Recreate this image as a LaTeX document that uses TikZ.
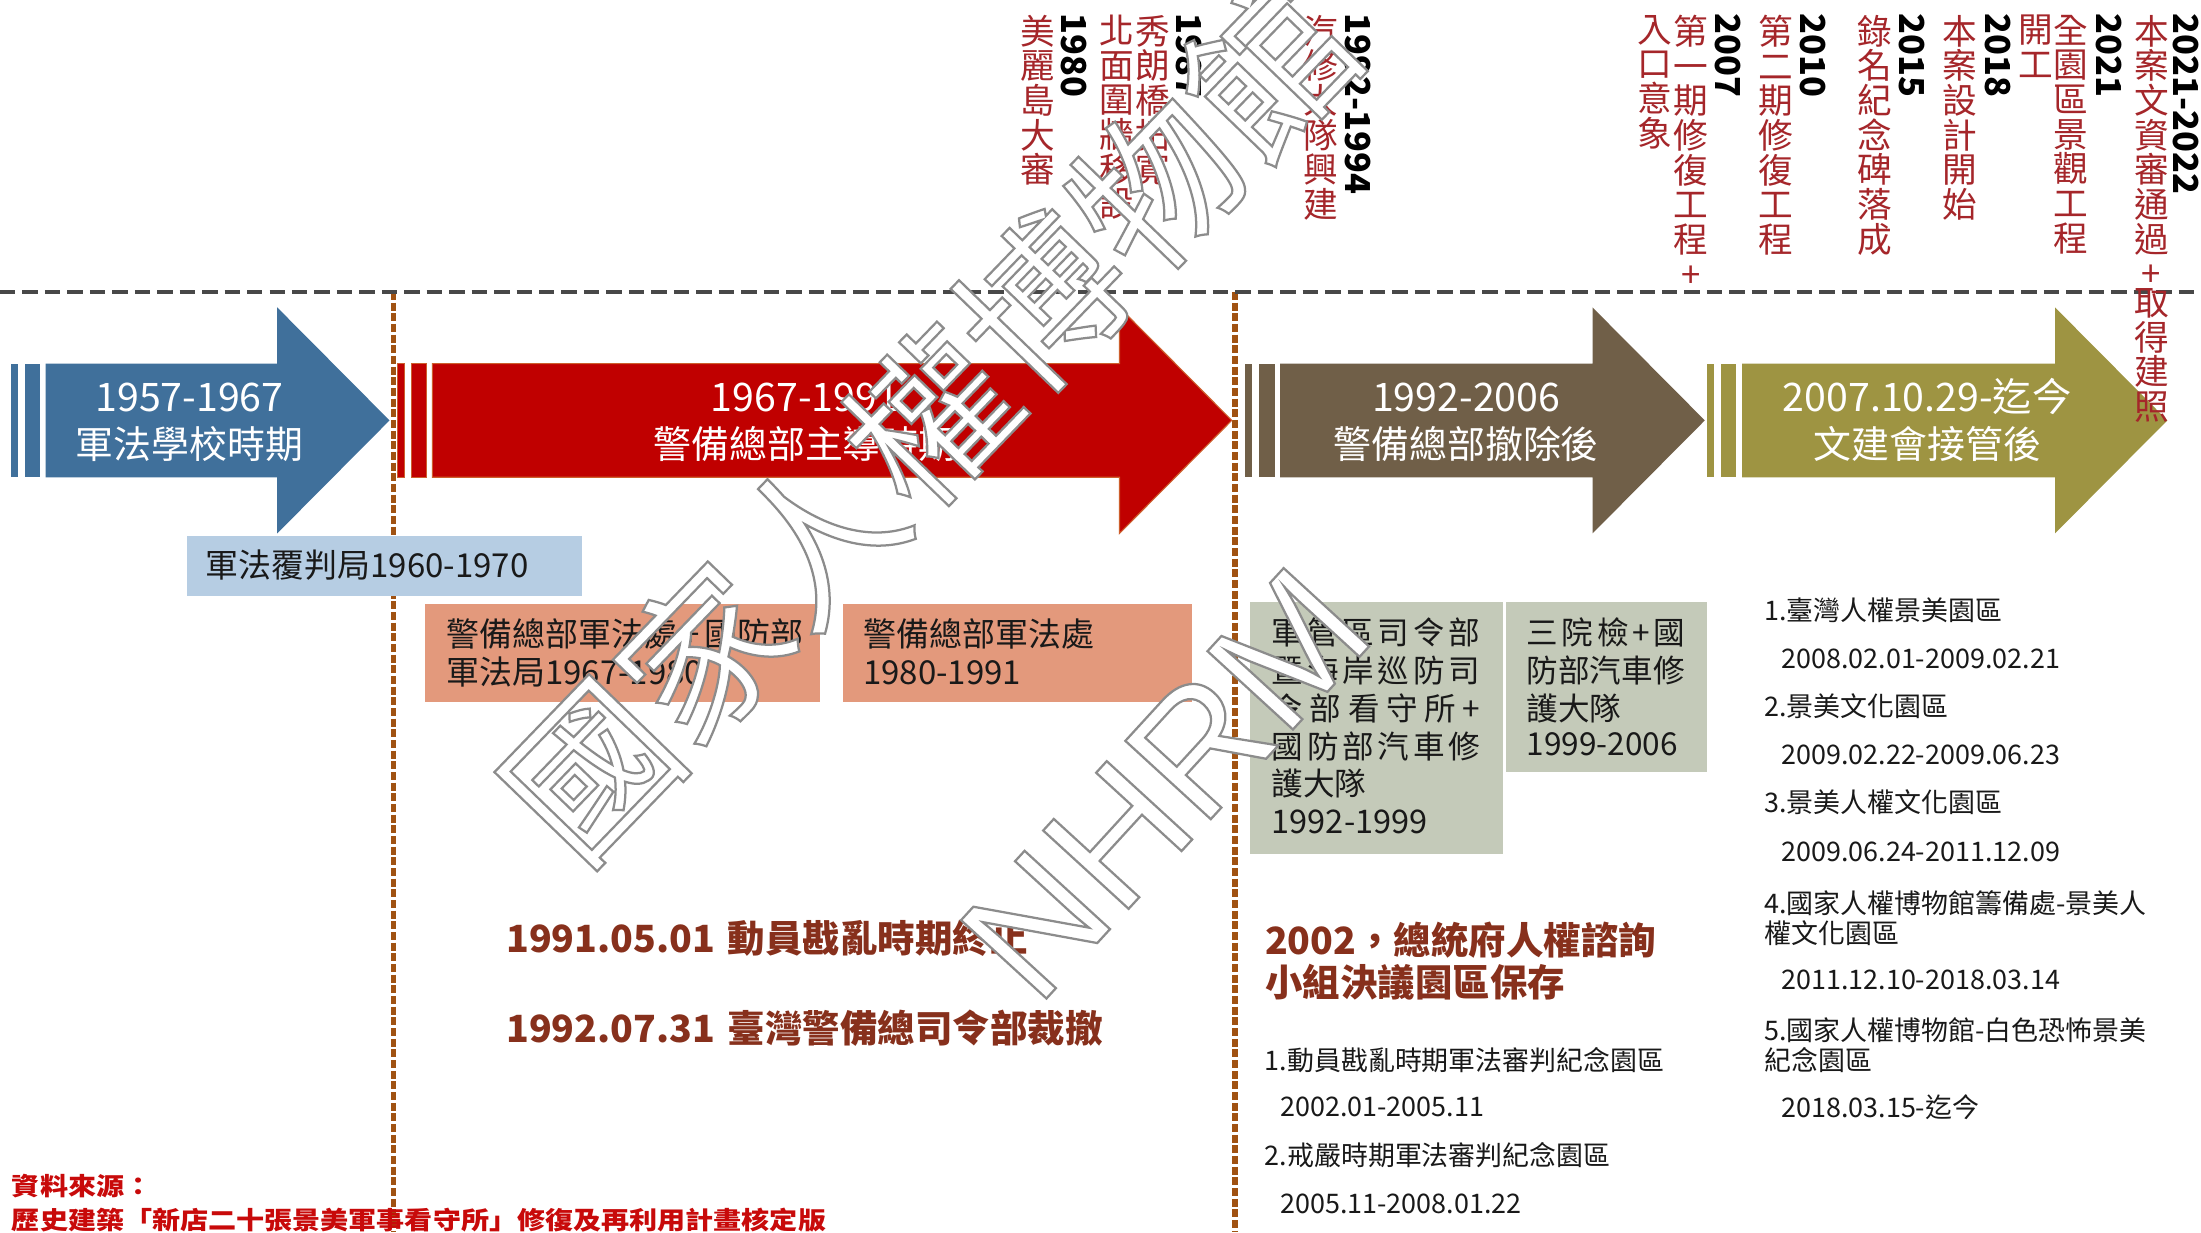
\documentclass[tikz,border=0pt]{standalone}
\usepackage{fontspec}
\usepackage{graphicx}
\setmainfont{Noto Sans CJK TC}
\newfontfamily\wmlatin{Liberation Sans}
\definecolor{cBlue}{RGB}{64,112,155}
\definecolor{cRed}{RGB}{192,0,0}
\definecolor{cRedEdge}{RGB}{205,95,45}
\definecolor{cBrown}{RGB}{112,95,72}
\definecolor{cOlive}{RGB}{158,148,66}
\definecolor{cLightBlue}{RGB}{182,205,227}
\definecolor{cSalmon}{RGB}{227,153,124}
\definecolor{cSage}{RGB}{196,202,185}
\definecolor{cDarkRed}{RGB}{135,48,28}
\definecolor{cVRed}{RGB}{165,38,42}
\definecolor{cSrc}{RGB}{200,10,10}
\definecolor{cGrayLine}{RGB}{72,72,72}
\definecolor{cOrange}{RGB}{160,82,18}
\definecolor{cText}{RGB}{25,25,25}
\newcommand\fsz[1]{\fontsize{#1pt}{#1pt}\selectfont}
\newcommand\wmout[1]{\special{pdf:literal 2 Tr 0.55 G 0.8 w}#1\special{pdf:literal 0 Tr}}
\newcommand\timearrow[3]{%
  \path[#3] (#1,259) rectangle ({#1+5},340);
  \path[#3] ({#1+10},259) rectangle ({#1+21},340);
  \path[#3] ({#1+25},259) -- ({#2-80},259) -- ({#2-80},219) -- (#2,299.5) -- ({#2-80},380) -- ({#2-80},340) -- ({#1+25},340) -- cycle;}
\begin{document}
\begin{tikzpicture}[x=0.5pt,y=-0.5pt,
  every node/.style={inner sep=0pt,outer sep=0pt},
  arrtxt/.style={text=white,anchor=base},
  boxtxt/.style={text=cText,font=\fsz{11.75},anchor=base west},
  sagetxt/.style={text=cText,font=\fsz{11.25},anchor=base west},
  bigred/.style={text=cDarkRed,font=\bfseries\fsz{13.35},anchor=base west},
  listtxt/.style={text=cText,font=\fsz{9.6},anchor=base west},
  vcol/.style={text=cVRed,font=\fsz{12.35},align=center,anchor=north},
  yearlbl/.style={text=black,font=\bfseries\fsz{12.25},rotate=-90,anchor=base west},
  srctxt/.style={text=cSrc,font=\bfseries\fsz{10},anchor=base west},
  wmark/.style={text=white,font=\fsz{58}},
  boxfill/.style={fill=#1,draw=none}
]
\useasboundingbox (0,0) rectangle (1568,878);
\fill[white] (0,0) rectangle (1568,878);

% dashed guide lines
\coordinate (hL) at (0,208);
\coordinate (hR) at (1568,208);
\coordinate (v1t) at (280.5,208);
\coordinate (v1b) at (280.5,878);
\coordinate (v2t) at (879.8,208);
\coordinate (v2b) at (879.8,878);
\draw[cOrange,line width=1.9pt,dash pattern=on 2.8pt off 1pt] (v1t) -- (v1b);
\draw[cOrange,line width=1.9pt,dash pattern=on 2.8pt off 1pt] (v2t) -- (v2b);
\draw[cGrayLine,line width=1.4pt,dash pattern=on 5.5pt off 2.5pt] (hL) -- (hR);

% period arrows
\timearrow{7.5}{277.5}{fill=cBlue}
\timearrow{283}{877.5}{fill=cRed,draw=cRedEdge,line width=0.4pt}
\timearrow{887}{1214.5}{fill=cBrown}
\timearrow{1216}{1544}{fill=cOlive}

\node[arrtxt,font=\fsz{14}] (a1t) at (135,293.4) {1957-1967};
\node[arrtxt,font=\fsz{13.5}] (a1b) at (135,326.8) {軍法學校時期};
\node[arrtxt,font=\fsz{14}] (a2t) at (573.5,293.4) {1967-1991};
\node[arrtxt,font=\fsz{13.5}] (a2b) at (573.5,326.8) {警備總部主導時期};
\node[arrtxt,font=\fsz{14}] (a3t) at (1044.5,293.4) {1992-2006};
\node[arrtxt,font=\fsz{13.5}] (a3b) at (1044.5,326.8) {警備總部撤除後};
\node[arrtxt,font=\fsz{14}] (a4t) at (1373,293.4) {2007.10.29-迄今};
\node[arrtxt,font=\fsz{13.5}] (a4b) at (1373,326.8) {文建會接管後};

% boxes
\path[boxfill=cLightBlue] (133,382) rectangle (414.5,424.6);
\path[boxfill=cSalmon] (302.7,430) rectangle (584.5,500);
\path[boxfill=cSalmon] (600.4,430) rectangle (849,500);
\path[boxfill=cSage] (890.5,429) rectangle (1070.5,608.4);
\path[boxfill=cSage] (1073,429) rectangle (1216,550.3);

\node[boxtxt] (lb) at (146.5,411.5) {軍法覆判局1960-1970};
\node[boxtxt] (s1a) at (317.9,460.4) {警備總部軍法處\hspace{1.6pt}+\hspace{1.6pt}國防部};
\node[boxtxt] (s1b) at (317.9,487.3) {軍法局1967-1980};
\node[boxtxt] (s2a) at (615,460.4) {警備總部軍法處};
\node[boxtxt] (s2b) at (615,487.3) {1980-1991};

\node[sagetxt] (g1a) at (906,459) {\makebox[74.25pt][s]{軍\hfill 管\hfill 區\hfill 司\hfill 令\hfill 部}};
\node[sagetxt] (g1b) at (906,486) {\makebox[74.25pt][s]{暨\hfill 海\hfill 岸\hfill 巡\hfill 防\hfill 司}};
\node[sagetxt] (g1c) at (906,513) {\makebox[74.25pt][s]{令\hfill 部\hfill 看\hfill 守\hfill 所\hfill +}};
\node[sagetxt] (g1d) at (906,540) {\makebox[74.25pt][s]{國\hfill 防\hfill 部\hfill 汽\hfill 車\hfill 修}};
\node[sagetxt] (g1e) at (906,567) {護大隊};
\node[sagetxt,font=\fsz{11.6}] (g1f) at (906,594) {1992-1999};
\node[sagetxt] (g2a) at (1087.6,459) {\makebox[56.4pt][s]{三\hfill 院\hfill 檢\hfill +\hfill 國}};
\node[sagetxt] (g2b) at (1087.6,486) {防部汽車修};
\node[sagetxt] (g2c) at (1087.6,513) {護大隊};
\node[sagetxt] (g2d) at (1087.6,538.5) {1999-2006};

% events
\node[bigred] (ev1) at (360.7,678.6) {1991.05.01\hspace{4.5pt}動員戡亂時期終止};
\node[bigred] (ev2) at (360.7,742.7) {1992.07.31\hspace{4.5pt}臺灣警備總司令部裁撤};
\node[bigred] (ev3) at (901.3,679.7) {2002，總統府人權諮詢};
\node[bigred] (ev4) at (901.3,710.1) {小組決議園區保存};

% lists
\node[listtxt] (l1) at (901,762.4) {1.動員戡亂時期軍法審判紀念園區};
\node[listtxt] (l1d) at (912,795.4) {2002.01-2005.11};
\node[listtxt] (l2) at (901,830.4) {2.戒嚴時期軍法審判紀念園區};
\node[listtxt] (l2d) at (912,864.4) {2005.11-2008.01.22};

\node[listtxt] (r1) at (1257,442) {1.臺灣人權景美園區};
\node[listtxt] (r1d) at (1269,476.1) {2008.02.01-2009.02.21};
\node[listtxt] (r2) at (1257,510.4) {2.景美文化園區};
\node[listtxt] (r2d) at (1269,544.4) {2009.02.22-2009.06.23};
\node[listtxt] (r3) at (1257,579.1) {3.景美人權文化園區};
\node[listtxt] (r3d) at (1269,613.9) {2009.06.24-2011.12.09};
\node[listtxt] (r4) at (1257,650.9) {4.國家人權博物館籌備處-景美人};
\node[listtxt] (r4b) at (1257,672.4) {權文化園區};
\node[listtxt] (r4d) at (1269,705) {2011.12.10-2018.03.14};
\node[listtxt] (r5) at (1257,741.2) {5.國家人權博物館-白色恐怖景美};
\node[listtxt] (r5b) at (1257,762.4) {紀念園區};
\node[listtxt] (r5d) at (1269,796.4) {2018.03.15-迄今};

% source
\node[srctxt] (src1) at (8.5,851.8) {\scalebox{1}[0.88]{資料來源：}};
\node[srctxt] (src2) at (8.5,875.8) {\scalebox{1}[0.88]{歷史建築「新店二十張景美軍事看守所」修復及再利用計畫核定版}};

% vertical milestone texts
\node[vcol] (t1980) at (739,10.7) {美\\麗\\島\\大\\審};
\node[vcol] (t1987b) at (795.5,10.7) {北\\面\\圍\\牆\\移\\設};
\node[vcol] (t1987a) at (821,10.7) {秀\\朗\\橋\\拓\\寬};
\node[vcol] (t1992) at (941,10.7) {汽\\修\\大\\隊\\興\\建};
\node[vcol] (t2007b) at (1179,10.7) {入\\口\\意\\象};
\node[vcol] (t2007a) at (1204.6,10.7) {第\\一\\期\\修\\復\\工\\程\\+};
\node[vcol] (t2010) at (1265.4,10.7) {第\\二\\期\\修\\復\\工\\程};
\node[vcol] (t2015) at (1335.8,10.7) {錄\\名\\紀\\念\\碑\\落\\成};
\node[vcol] (t2018) at (1396.3,10.7) {本\\案\\設\\計\\開\\始};
\node[vcol] (t2021b) at (1450,10.7) {開\\工};
\node[vcol] (t2021a) at (1475.5,10.7) {全\\園\\區\\景\\觀\\工\\程};
\node[vcol] (t2022) at (1532.6,10.7) {本\\案\\文\\資\\審\\通\\過\\+\\[-2.1pt]取\\得\\建\\照};

\node[yearlbl] (y1980) at (756.3,9.5) {1980};
\node[yearlbl] (y1987) at (838.3,9.5) {1987};
\node[yearlbl] (y1992) at (958.2,9.5) {1992-1994};
\node[yearlbl] (y2007) at (1222.2,9.5) {2007};
\node[yearlbl] (y2010) at (1282.9,9.5) {2010};
\node[yearlbl] (y2015) at (1353.4,9.5) {2015};
\node[yearlbl] (y2018) at (1414.1,9.5) {2018};
\node[yearlbl] (y2021) at (1493.2,9.5) {2021};
\node[yearlbl] (y2022) at (1548.5,9.5) {2021-2022};

% watermark
\node[wmark,rotate=46] (wm1) at (662,298) {\wmout{國家人權博物館}};
\node[wmark,rotate=47.5,font=\wmlatin\fsz{60}] (wm2) at (830,558) {\wmout{NHRM}};
\end{tikzpicture}
\end{document}
